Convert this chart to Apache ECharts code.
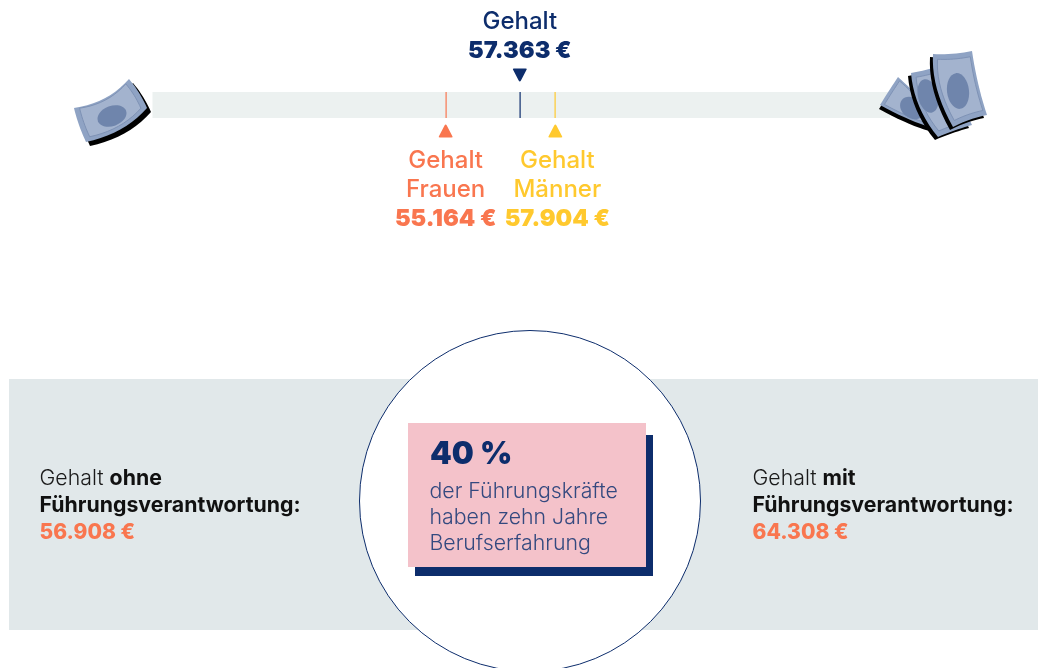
<!DOCTYPE html>
<html>
<head>
<meta charset="utf-8">
<title>Gehalt</title>
<script src="https://cdn.jsdelivr.net/npm/echarts@6/dist/echarts.min.js"></script>
<style>
html, body { margin: 0; padding: 0; background: #fff; }
#main { width: 1038px; height: 668px; }
</style>
</head>
<body>
<div id="main"></div>
<script>
// Werte aus der Grafik
var markerNames = ['Gehalt\nFrauen', 'Gehalt', 'Gehalt\nMänner'];
var markerValues = [55164, 57363, 57904];
var markerColors = ['#f9764f', '#0d2d6c', '#ffc92e'];
var markerSides = ['bottom', 'top', 'bottom'];
var leadershipLabels = ['ohne', 'mit'];
var leadershipValues = [56908, 64308];
var calloutValue = '40 %';
var calloutLines = ['der Führungskräfte', 'haben zehn Jahre', 'Berufserfahrung'];

var navy = '#0d2d6c';
var coral = '#f9764f';
var head = '"Inter", sans-serif';

function euro(v) {
  return String(v).replace(/\B(?=(\d{3})+$)/g, '.') + ' €';
}

var myChart = echarts.init(document.getElementById('main'));

// Geldschein: p = [TL, ctrlTop, TR, ctrlRight, BR, ctrlBottom, BL, ctrlLeft]
function notePoints(p, dx, dy) {
  var pts = [];
  for (var s = 0; s < 4; s++) {
    var a = p[s * 2], c = p[s * 2 + 1], b = p[(s * 2 + 2) % 8];
    for (var t = 0; t < 1; t += 0.1) {
      var u = 1 - t;
      pts.push([
        u * u * a[0] + 2 * u * t * c[0] + t * t * b[0] + dx,
        u * u * a[1] + 2 * u * t * c[1] + t * t * b[1] + dy
      ]);
    }
  }
  return pts;
}
function inset(p, f) {
  var cx = (p[0][0] + p[2][0] + p[4][0] + p[6][0]) / 4;
  var cy = (p[0][1] + p[2][1] + p[4][1] + p[6][1]) / 4;
  return p.map(function (q) { return [cx + (q[0] - cx) * f, cy + (q[1] - cy) * f]; });
}
function note(p, sx, sy, ell, z) {
  return [
    { type: 'polygon', z: z, shape: { points: notePoints(p, sx, sy) }, style: { fill: '#000' } },
    { type: 'polygon', z: z, shape: { points: notePoints(p, 0, 0) }, style: { fill: '#8fa3c4' } },
    { type: 'polygon', z: z, shape: { points: notePoints(inset(p, 0.84), 0, 0) }, style: { fill: '#a3b3ce', stroke: '#7e92b5', lineWidth: 1 } },
    { type: 'ellipse', z: z, x: ell[0], y: ell[1], rotation: ell[4],
      shape: { cx: 0, cy: 0, rx: ell[2], ry: ell[3] }, style: { fill: '#6f85ac' } }
  ];
}

var money = [].concat(
  note([[74, 108], [108, 103], [129, 79], [140, 92], [147, 108], [124, 134], [86, 142], [78, 125]], 4, 4, [112, 116, 15, 10, 0.35], 20),
  note([[898, 77], [888, 92], [880, 105], [913, 123], [934, 128], [922, 110], [918, 96], [906, 84]], -1, 4, [912, 108, 10, 13, 0.9], 21),
  note([[911, 73], [930, 70], [950, 62], [958, 95], [972, 125], [954, 130], [938, 137], [914, 108]], -3, 3, [928, 96, 10, 17, 0.25], 22),
  note([[933, 54], [952, 55], [972, 51], [977, 85], [987, 115], [968, 119], [953, 127], [931, 88]], -3, 3, [958, 91, 11, 18, 0.12], 23)
);

var texts = [
  { type: 'rect', shape: { x: 9, y: 379, width: 1029, height: 251 }, style: { fill: '#e1e8ea' }, z: 1 },
  { type: 'circle', shape: { cx: 530, cy: 501, r: 170.5 }, style: { fill: '#fff', stroke: navy, lineWidth: 1 }, z: 2 },
  { type: 'rect', shape: { x: 415, y: 435, width: 238, height: 141 }, style: { fill: navy }, z: 3 },
  { type: 'rect', shape: { x: 408, y: 423, width: 238, height: 144 }, style: { fill: '#f4c2ca' }, z: 4 },
  { type: 'text', z: 5, x: 430, y: 455, style: { text: calloutValue, fill: navy, font: '900 31px ' + head, verticalAlign: 'middle' } },
  { type: 'text', z: 5, x: 429.5, y: 492, style: { text: calloutLines[0], fill: '#34497f', font: '300 21.3px ' + head, verticalAlign: 'middle' } },
  { type: 'text', z: 5, x: 429.5, y: 518, style: { text: calloutLines[1], fill: '#34497f', font: '300 21.3px ' + head, verticalAlign: 'middle' } },
  { type: 'text', z: 5, x: 429.5, y: 544, style: { text: calloutLines[2], fill: '#34497f', font: '300 21.3px ' + head, verticalAlign: 'middle' } }
];

[39.5, 752.5].forEach(function (x, i) {
  texts.push({ type: 'text', z: 5, x: x, y: 465, style: {
    text: '{a|Gehalt }{b|' + leadershipLabels[i] + '}\n{b|Führungsverantwortung:}\n{c|' + euro(leadershipValues[i]) + '}',
    verticalAlign: 'top', lineHeight: 27,
    rich: {
      a: { font: '300 21.3px ' + head, fill: '#1a1a1a', lineHeight: 27 },
      b: { font: '700 21.3px ' + head, fill: '#111', lineHeight: 27 },
      c: { font: '800 21px ' + head, fill: coral, lineHeight: 27 }
    }
  } });
});

var option = {
  animation: false,
  grid: { show: true, left: 152.5, width: 737.5, top: 92, height: 26, backgroundColor: '#ecf1f0', borderWidth: 0 },
  xAxis: {
    type: 'value', show: false, min: 50700, max: 63000,
    breaks: [{ start: 55500, end: 57000, gap: 430 }],
    breakArea: { show: false }
  },
  yAxis: { type: 'value', show: false, min: 0, max: 1 },
  series: [
    {
      type: 'custom',
      silent: true,
      data: markerValues.map(function (v) { return [v, 0]; }),
      renderItem: function (params, api) {
        var a = api.coord([api.value(0), 0]);
        var b = api.coord([api.value(0), 1]);
        return { type: 'rect', shape: { x: Math.round(a[0]) - 0.5, y: b[1], width: 1.2, height: a[1] - b[1] },
          style: { fill: markerColors[params.dataIndex] } };
      }
    },
    {
      type: 'scatter',
      silent: true,
      symbol: 'path://M1,14 L6,2 Q7,0 8,2 L13,14 Q13.5,15 12,15 L2,15 Q0.5,15 1,14 Z',
      symbolSize: [14, 13],
      data: markerValues.map(function (v, i) {
        var top = markerSides[i] === 'top';
        return {
          value: [v, 0.5],
          symbolRotate: top ? 180 : 0,
          symbolOffset: [0, top ? -30 : 26],
          itemStyle: { color: markerColors[i], opacity: 1 },
          label: {
            show: true,
            position: markerSides[i],
            distance: top ? 3 : 9,
            offset: [i === 2 ? 2 : 0, 0],
            align: 'center',
            lineHeight: 29,
            color: markerColors[i],
            formatter: '{n|' + markerNames[i].split('\n').join('}\n{n|') + '}\n{v|' + euro(v) + '}',
            rich: {
              n: { fontFamily: head, fontWeight: 500, fontSize: 24, lineHeight: 29, color: markerColors[i] },
              v: { fontFamily: head, fontWeight: 900, fontSize: 23.5, lineHeight: 29, color: markerColors[i] }
            }
          }
        };
      })
    }
  ],
  graphic: { elements: texts.concat(money) }
};

myChart.setOption(option);
</script>
</body>
</html>
